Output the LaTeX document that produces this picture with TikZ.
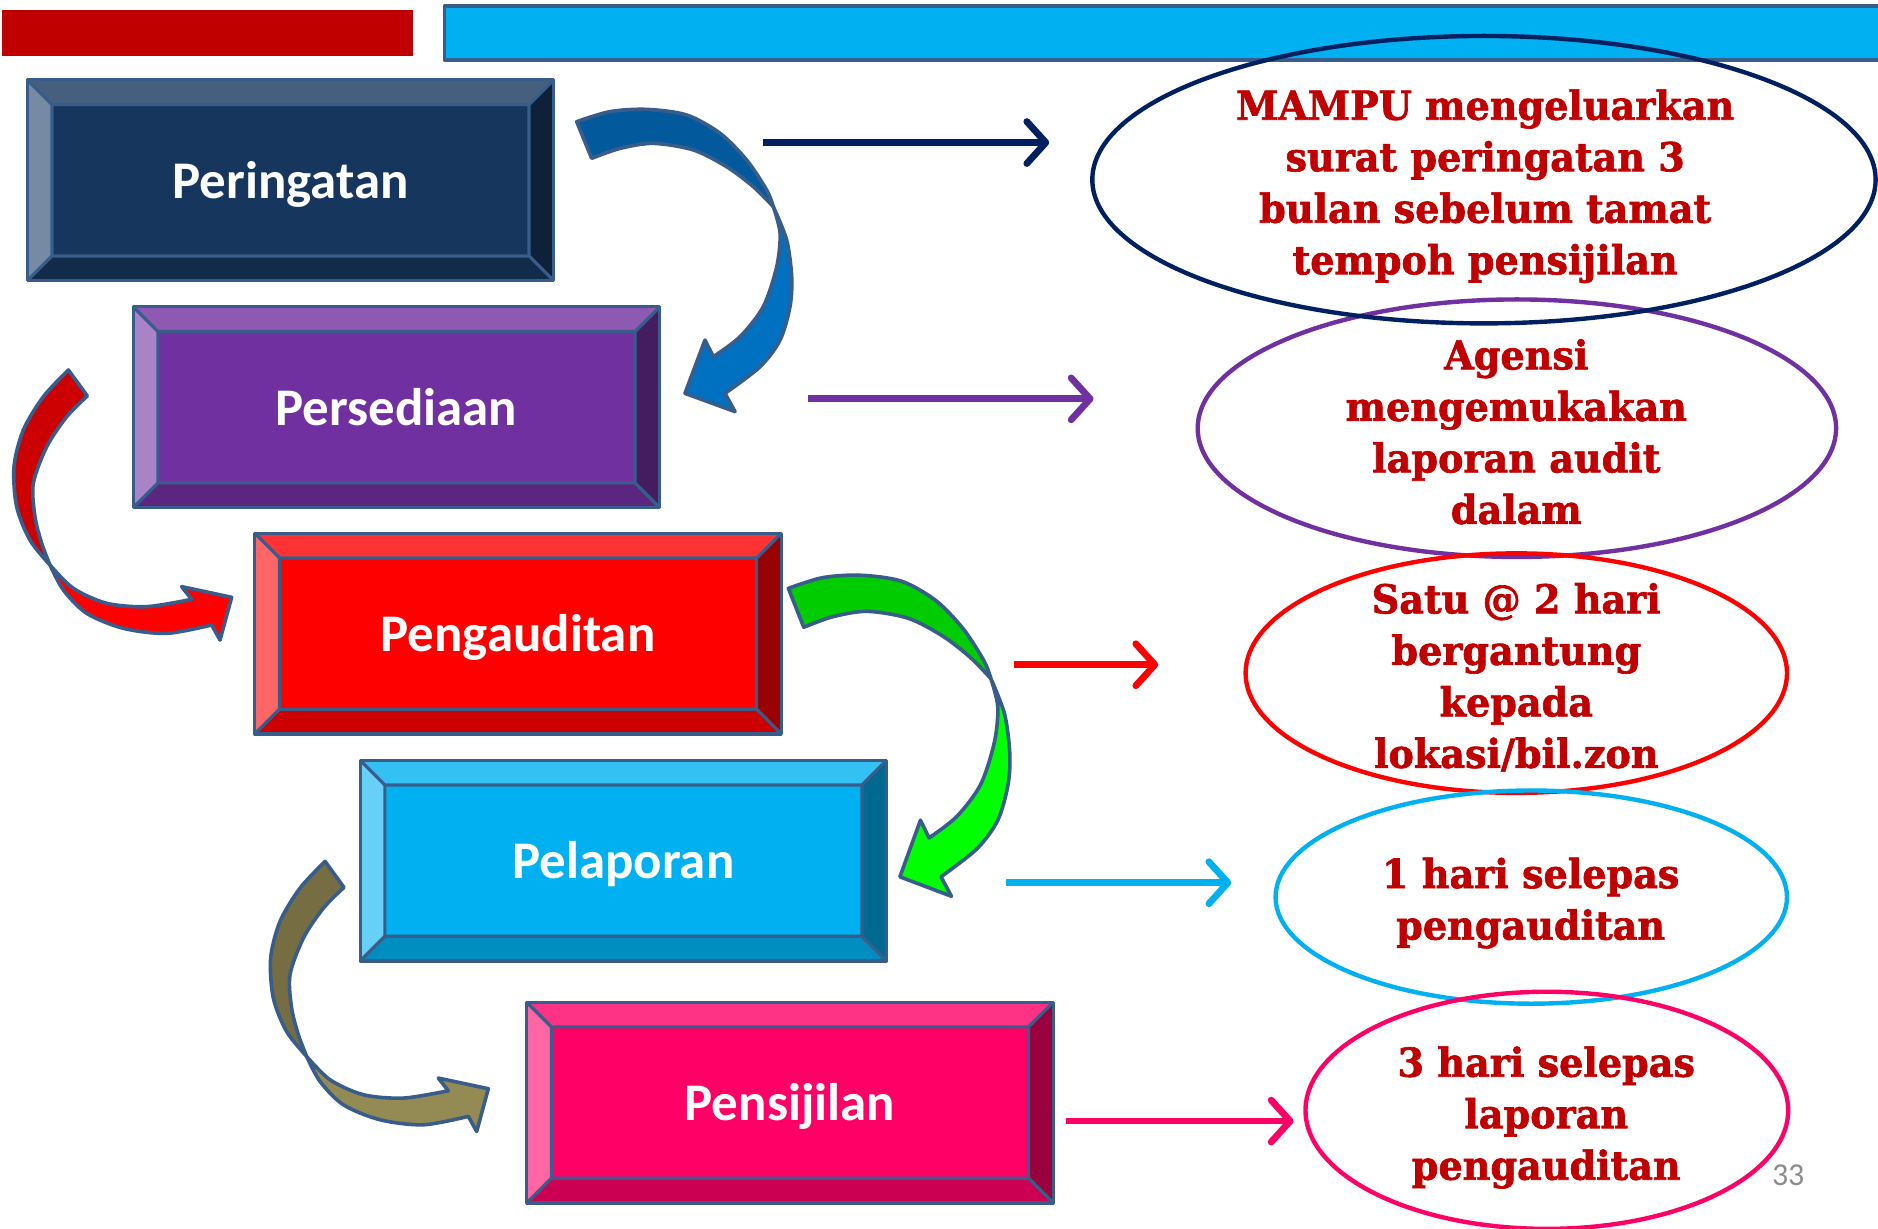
\documentclass[tikz,border=0pt]{standalone}
\usepackage{fontspec}
\usetikzlibrary{calc,arrows.meta,shapes.geometric}
\newfontfamily\boxfont{Carlito}
\newfontfamily\ellfont{DejaVu Serif}[BoldFeatures={FakeStretch=0.955,FakeBold=1.6}]
\definecolor{outl}{HTML}{385D8A}
\definecolor{barred}{HTML}{C00000}
\definecolor{barblue}{HTML}{00B0F0}
\definecolor{navyc}{HTML}{002060}
\definecolor{purpc}{HTML}{7030A0}
\definecolor{redc}{HTML}{FF0000}
\definecolor{bluec}{HTML}{00B0F0}
\definecolor{pinkc}{HTML}{FF0066}
\definecolor{textred}{HTML}{C00000}
\definecolor{pagegray}{HTML}{8C8C8C}
% box 1
\definecolor{aF}{HTML}{17365D}\definecolor{aT}{HTML}{465F7D}\definecolor{aL}{HTML}{778AA3}\definecolor{aB}{HTML}{132B4A}\definecolor{aR}{HTML}{0F2039}
% box 2
\definecolor{bF}{HTML}{7030A0}\definecolor{bT}{HTML}{8D59B3}\definecolor{bL}{HTML}{A983C6}\definecolor{bB}{HTML}{5A267F}\definecolor{bR}{HTML}{431D60}
% box 3
\definecolor{cF}{HTML}{FF0000}\definecolor{cT}{HTML}{FF3333}\definecolor{cL}{HTML}{FF6666}\definecolor{cB}{HTML}{CC0000}\definecolor{cR}{HTML}{990000}
% box 4
\definecolor{dF}{HTML}{00B0F0}\definecolor{dT}{HTML}{33C0F3}\definecolor{dL}{HTML}{66D0F6}\definecolor{dB}{HTML}{008DC0}\definecolor{dR}{HTML}{006990}
% box 5
\definecolor{eF}{HTML}{FF0066}\definecolor{eT}{HTML}{FF3385}\definecolor{eL}{HTML}{FF66A3}\definecolor{eB}{HTML}{CC0052}\definecolor{eR}{HTML}{99003D}
% curved arrows
\definecolor{cvBu}{HTML}{02599B}\definecolor{cvBl}{HTML}{0070C0}
\definecolor{cvGu}{HTML}{00CC00}\definecolor{cvGl}{HTML}{00FF00}
\definecolor{cvRu}{HTML}{CC0000}\definecolor{cvRl}{HTML}{FF0000}
\definecolor{cvOu}{HTML}{766D42}\definecolor{cvOl}{HTML}{948A54}

\newcommand\bevelbox[5]{%
  \coordinate (A) at (#1.north west);
  \coordinate (B) at (#1.north east);
  \coordinate (C) at (#1.south east);
  \coordinate (D) at (#1.south west);
  \coordinate (a) at ($(A)+(12.4pt,-12.4pt)$);
  \coordinate (b) at ($(B)+(-12.4pt,-12.4pt)$);
  \coordinate (c) at ($(C)+(-12.4pt,12.4pt)$);
  \coordinate (d) at ($(D)+(12.4pt,12.4pt)$);
  \fill[#2] (A)--(B)--(b)--(a)--cycle;
  \fill[#3] (A)--(a)--(d)--(D)--cycle;
  \fill[#4] (D)--(d)--(c)--(C)--cycle;
  \fill[#5] (B)--(C)--(c)--(b)--cycle;
  \draw[bevline] (A)--(a) (B)--(b) (C)--(c) (D)--(d) (a)--(b)--(c)--(d)--cycle;
  \draw[bevline] (A)--(B)--(C)--(D)--cycle;
}

\newcommand\bluecurve[2]{%
  \filldraw[curv, fill=#1] plot[smooth] coordinates {(481.5,101.6) (509.3,93.2) (540,91.3) (573.3,96) (601.2,111.3) (623.4,133.6) (640.1,158.6) (645.7,172.6)}
    -- plot[smooth] coordinates {(645.7,172.6) (629,155.9) (606.7,139.2) (578.9,125.2) (545.5,119.7) (517.7,123.9) (494,132.2)} -- cycle;
  \filldraw[curv, fill=#2] plot[smooth] coordinates {(645.7,172.6) (656.8,200.4) (661,231) (659.6,256) (651.3,283.9) (634.6,306.2) (605.3,328.4)}
    -- (613.7,343.7) -- (571.9,328.4) -- (588.6,283.9) -- (595.6,297.8)
    -- plot[smooth] coordinates {(595.6,297.8) (617.9,281.1) (637.3,256) (648.5,222.7) (651.3,194.8) (645.7,172.6)} -- cycle;
}
\newcommand\redcurve[2]{%
  \filldraw[curv, fill=#1] plot[smooth] coordinates {(57.1,308.9) (36.2,331.2) (19.5,359) (11.7,389.6) (13.9,423) (25,450.9) (41.7,471.7)}
    -- plot[smooth] coordinates {(41.7,471.7) (34.8,453.6) (29.2,431.4) (27.8,403.6) (39,373) (55.7,347.9) (72.9,330.6)} -- cycle;
  \filldraw[curv, fill=#2] plot[smooth] coordinates {(41.7,471.7) (61.2,491.2) (89.1,503.7) (122.5,506.5) (160,500.4)}
    -- (151.7,489.8) -- (193.4,498.7) -- (183.7,534.4) -- (176.7,521.8)
    -- plot[smooth] coordinates {(176.7,521.8) (139.2,528.8) (103,524.6) (72.4,512.1) (52.9,492.6) (41.7,471.7)} -- cycle;
}

\begin{document}
\begin{tikzpicture}[x=0.6pt,y=-0.6pt,
  stepbox/.style={draw=outl, line width=1.6pt, minimum width=262.2pt, minimum height=99pt, inner sep=0pt, text height=18pt, text depth=0pt, text=white, font=\boxfont\bfseries\fontsize{26.5}{30}\selectfont},
  bevline/.style={draw=outl, line width=1.6pt, line join=round},
  ell/.style={ellipse, line width=2.2pt, inner sep=0pt, outer sep=0pt},
  etext/.style={align=center, text=textred, inner sep=0pt, font=\ellfont\bfseries\fontsize{20}{25.8}\selectfont},
  conn/.style={line width=3.4pt, -{Straight Barb[length=9.5pt,width=21pt,round]}},
  curv/.style={draw=outl, line width=1.8pt, line join=round}
]
\useasboundingbox (0,0) rectangle (1568,1026);
\fill[white] (0,0) rectangle (1568,1026);

% top bars
\fill[barred] (2,8) rectangle (345,47);
\fill[barblue] (371,5) rectangle (1572,50);
\draw[outl, line width=1.8pt, line join=round] (1572,5) -- (371,5) -- (371,50) -- (1572,50);

% boxes
\node[stepbox, fill=aF] (p1) at (242.5,150.5) {Peringatan};
\bevelbox{p1}{aT}{aL}{aB}{aR}
\node[stepbox, fill=bF] (p2) at (331,340) {Persediaan};
\bevelbox{p2}{bT}{bL}{bB}{bR}
\node[stepbox, fill=cF] (p3) at (432.5,529) {Pengauditan};
\bevelbox{p3}{cT}{cL}{cB}{cR}
\node[stepbox, fill=dF] (p4) at (520.5,718.5) {Pelaporan};
\bevelbox{p4}{dT}{dL}{dB}{dR}
\node[stepbox, fill=eF] (p5) at (659.5,920.5) {Pensijilan};
\bevelbox{p5}{eT}{eL}{eB}{eR}

% curved arrows
\bluecurve{cvBu}{cvBl}
\begin{scope}[shift={(658.2,491.2)}, xscale=1.03, yscale=1.062, shift={(-481.5,-101.6)}]
  \bluecurve{cvGu}{cvGl}
\end{scope}
\redcurve{cvRu}{cvRl}
\begin{scope}[shift={(214.3,410.3)}]
  \redcurve{cvOu}{cvOl}
\end{scope}

% ellipses
\node[ell, draw=purpc, minimum width=319.8pt, minimum height=129pt] (e2) at (1266.5,357.5) {};
\node[ell, draw=navyc, minimum width=392.4pt, minimum height=144pt] (e1) at (1239,150) {};
\node[ell, draw=redc, minimum width=271.2pt, minimum height=120pt] (e3) at (1266,562) {};
\node[ell, draw=bluec, minimum width=256.2pt, minimum height=106.8pt] (e4) at (1278.5,749) {};
\node[ell, draw=pinkc, minimum width=241.8pt, minimum height=118.8pt] (e5) at (1291.5,927) {};

\node[etext] (t1) at (1240,155.5) {MAMPU mengeluarkan\\surat peringatan 3\\bulan sebelum tamat\\tempoh pensijilan};
\node[etext] (t2) at (1266,360.5) {Agensi\\mengemukakan\\laporan audit\\dalam};
\node[etext] (t3) at (1266,565.5) {Satu @ 2 hari\\bergantung\\kepada\\lokasi/bil.zon};
\node[etext] (t4) at (1278,754) {1 hari selepas\\pengauditan};
\node[etext] (t5) at (1291,933) {3 hari selepas\\laporan\\pengauditan};

% straight arrows
\coordinate (s1) at (637,119);  \coordinate (f1) at (876,119);
\coordinate (s2) at (675,333);  \coordinate (f2) at (913,333);
\coordinate (s3) at (847,555);  \coordinate (f3) at (967,555);
\coordinate (s4) at (840,737);  \coordinate (f4) at (1028,737);
\coordinate (s5) at (890,936);  \coordinate (f5) at (1080,936);
\draw[conn, navyc] (s1) -- (f1);
\draw[conn, purpc] (s2) -- (f2);
\draw[conn, redc] (s3) -- (f3);
\draw[conn, bluec] (s4) -- (f4);
\draw[conn, pinkc] (s5) -- (f5);

% page number
\node[text=pagegray, font=\boxfont\fontsize{16}{18}\selectfont, inner sep=0pt] (pg) at (1493,981) {33};
\end{tikzpicture}
\end{document}
